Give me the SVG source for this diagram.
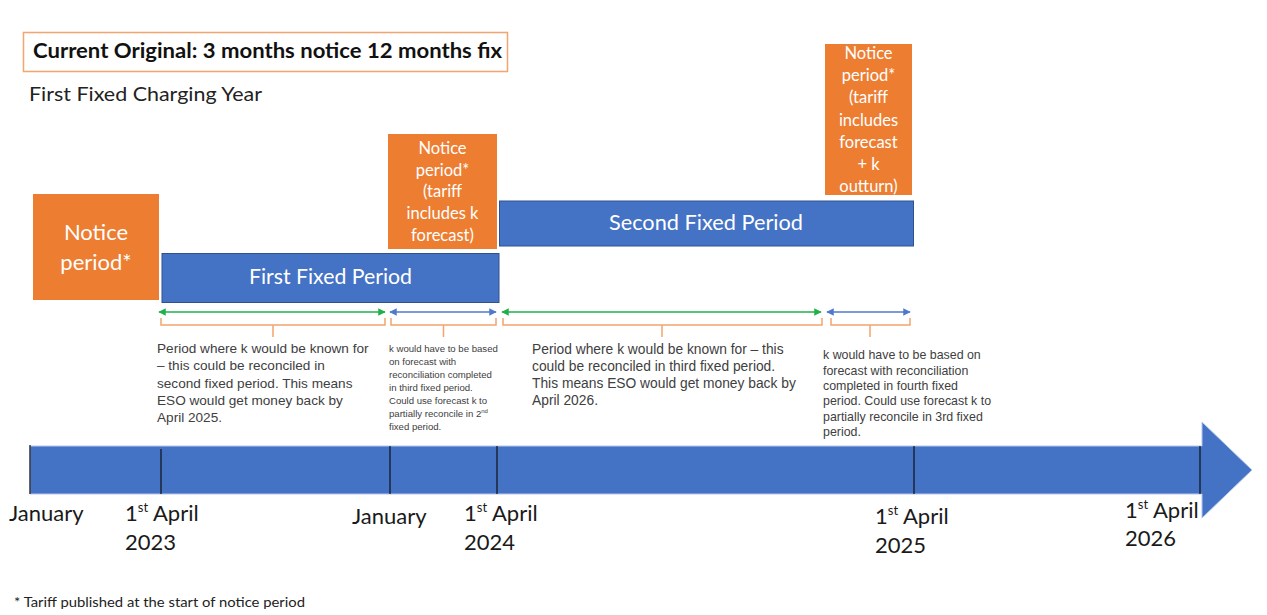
<svg xmlns="http://www.w3.org/2000/svg" width="1267" height="615" viewBox="0 0 1267 615">
<defs>
<style>
.cal{font-family:Lato,"Open Sans","Liberation Sans",sans-serif;}
.ar{font-family:"Liberation Sans",Arial,sans-serif;fill:#404040;}
.orange{fill:#ED7D31;}
.blue{fill:#4472C4;stroke:#2F528F;stroke-width:1;}
.wt{fill:#ffffff;text-anchor:middle;}
.lbl{font-size:22px;fill:#1a1a1a;}
.brace{fill:none;stroke:#F4A46E;stroke-width:1.5;}
.tick{stroke:#111;stroke-width:1.2;}
.ga{stroke:#21B04B;stroke-width:1.5;marker-start:url(#mg);marker-end:url(#mg);}
.ba{stroke:#4F7ACB;stroke-width:1.5;marker-start:url(#mb);marker-end:url(#mb);}
</style>
<marker id="mg" viewBox="0 0 10 10" refX="9" refY="5" markerWidth="5" markerHeight="5" orient="auto-start-reverse"><path d="M0,0 L10,5 L0,10 z" fill="#21B04B"/></marker>
<marker id="mb" viewBox="0 0 10 10" refX="9" refY="5" markerWidth="5" markerHeight="5" orient="auto-start-reverse"><path d="M0,0 L10,5 L0,10 z" fill="#4F7ACB"/></marker>
</defs>
<rect width="1267" height="615" fill="#ffffff"/>

<g id="title">
<rect x="23.5" y="32.5" width="484" height="39" fill="#ffffff" stroke="#F4A46E" stroke-width="1.5"/>
<text class="cal" x="33" y="58" font-size="20" font-weight="bold" fill="#111" textLength="469" lengthAdjust="spacingAndGlyphs">Current Original: 3 months notice 12 months fix</text>
</g>
<g id="subtitle"><text class="cal" x="29" y="101" font-size="20" fill="#222" textLength="233" lengthAdjust="spacingAndGlyphs">First Fixed Charging Year</text></g>

<g id="notice1">
<rect class="orange" x="33" y="194" width="126" height="106"/>
<text class="cal wt" font-size="22"><tspan x="96" y="240">Notice</tspan><tspan x="96" y="270">period*</tspan></text>
</g>
<g id="first-fixed">
<rect class="blue" x="162" y="253.5" width="337" height="49"/>
<text class="cal wt" x="330.5" y="284" font-size="21" textLength="163" lengthAdjust="spacingAndGlyphs">First Fixed Period</text>
</g>
<g id="notice2">
<rect class="orange" x="388" y="134" width="109" height="115"/>
<text class="cal wt" font-size="16.5"><tspan x="442.5" y="154">Notice</tspan><tspan x="442.5" y="175.5">period*</tspan><tspan x="442.5" y="197">(tariff</tspan><tspan x="442.5" y="219">includes k</tspan><tspan x="442.5" y="241">forecast)</tspan></text>
</g>
<g id="second-fixed">
<rect class="blue" x="499.5" y="201" width="414" height="45"/>
<text class="cal wt" x="706" y="230" font-size="21.5" textLength="194" lengthAdjust="spacingAndGlyphs">Second Fixed Period</text>
</g>
<g id="notice3">
<rect class="orange" x="825" y="44" width="87" height="151"/>
<text class="cal wt" font-size="16.5"><tspan x="868.5" y="59">Notice</tspan><tspan x="868.5" y="81">period*</tspan><tspan x="868.5" y="103">(tariff</tspan><tspan x="868.5" y="126">includes</tspan><tspan x="868.5" y="148">forecast</tspan><tspan x="868.5" y="170">+ k</tspan><tspan x="868.5" y="192">outturn)</tspan></text>
</g>

<g id="connectors">
<line class="ga" x1="159" y1="312" x2="385" y2="312"/>
<line class="ba" x1="390" y1="312" x2="496" y2="312"/>
<line class="ga" x1="502" y1="312" x2="821" y2="312"/>
<line class="ba" x1="827" y1="312" x2="910" y2="312"/>
<path class="brace" d="M161,318 V325 H385 V318 M273,325 V337"/>
<path class="brace" d="M391,318 V325 H496 V318 M443.5,325 V337"/>
<path class="brace" d="M503,318 V325 H822 V318 M662,325 V337"/>
<path class="brace" d="M831,318 V325 H910 V318 M870,325 V337"/>
</g>

<g id="note1"><text class="ar" font-size="13.6"><tspan x="157" y="353">Period where k would be known for</tspan><tspan x="157" y="370">– this could be reconciled in</tspan><tspan x="157" y="387.5">second fixed period. This means</tspan><tspan x="157" y="405">ESO would get money back by</tspan><tspan x="157" y="422">April 2025.</tspan></text></g>
<g id="note2"><text class="ar" font-size="9.6"><tspan x="389" y="352">k would have to be based</tspan><tspan x="389" y="365">on forecast with</tspan><tspan x="389" y="378">reconciliation completed</tspan><tspan x="389" y="391">in third fixed period.</tspan><tspan x="389" y="404">Could use forecast k to</tspan><tspan x="389" y="417">partially reconcile in 2<tspan font-size="6" dy="-4">nd</tspan></tspan><tspan x="389" y="430">fixed period.</tspan></text></g>
<g id="note3"><text class="ar" font-size="13.8"><tspan x="532" y="354">Period where k would be known for – this</tspan><tspan x="532" y="371">could be reconciled in third fixed period.</tspan><tspan x="532" y="388">This means ESO would get money back by</tspan><tspan x="532" y="405">April 2026.</tspan></text></g>
<g id="note4"><text class="ar" font-size="12.4"><tspan x="823" y="359">k would have to be based on</tspan><tspan x="823" y="374.5">forecast with reconciliation</tspan><tspan x="823" y="390">completed in fourth fixed</tspan><tspan x="823" y="405">period. Could use forecast k to</tspan><tspan x="823" y="420.5">partially reconcile in 3rd fixed</tspan><tspan x="823" y="436">period.</tspan></text></g>

<g id="timeline">
<path d="M30,446 H1202 V422 L1252,470 L1202,518 V494 H30 Z" fill="#4472C4" stroke="#B4C7E7" stroke-width="1"/>
<line class="tick" x1="30" y1="445" x2="30" y2="494"/>
<line class="tick" x1="161" y1="449" x2="161" y2="494"/>
<line class="tick" x1="390" y1="446" x2="390" y2="494"/>
<line class="tick" x1="497" y1="446" x2="497" y2="494"/>
<line class="tick" x1="914" y1="446" x2="914" y2="494"/>
<line class="tick" x1="1200" y1="446" x2="1200" y2="494"/>
</g>

<g id="labels" class="cal lbl">
<text x="9" y="521">January</text>
<text x="125" y="521">1<tspan font-size="13" dy="-9">st</tspan><tspan dy="9"> April</tspan></text>
<text x="125" y="550">2023</text>
<text x="352" y="524">January</text>
<text x="464" y="521">1<tspan font-size="13" dy="-9">st</tspan><tspan dy="9"> April</tspan></text>
<text x="464" y="550">2024</text>
<text x="875" y="524">1<tspan font-size="13" dy="-9">st</tspan><tspan dy="9"> April</tspan></text>
<text x="875" y="553">2025</text>
<text x="1125" y="518">1<tspan font-size="13" dy="-9">st</tspan><tspan dy="9"> April</tspan></text>
<text x="1125" y="546">2026</text>
</g>
<g id="footnote"><text class="cal" x="14" y="607" font-size="14" fill="#222" textLength="291" lengthAdjust="spacingAndGlyphs">* Tariff published at the start of notice period</text></g>
</svg>
